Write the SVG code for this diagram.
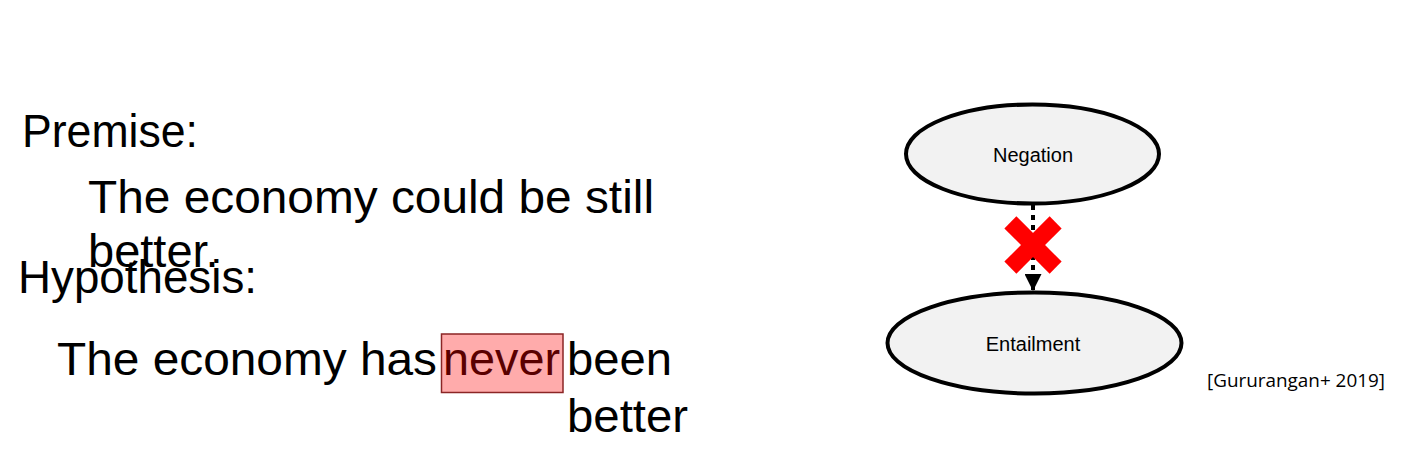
<svg xmlns="http://www.w3.org/2000/svg" width="1427" height="475" viewBox="0 0 1427 475">
  <style>
    .big { font-family: "Liberation Sans", Arial, sans-serif; font-size: 47px; fill: #000; }
    .lab { font-family: "Liberation Sans", Arial, sans-serif; font-size: 46px; fill: #000; }
    .node { fill: #f2f2f2; stroke: #000; stroke-width: 4; }
    .ntext { font-family: "Liberation Sans", Arial, sans-serif; font-size: 20px; fill: #000; text-anchor: middle; }
    .cite { font-family: "Open Sans", "Liberation Sans", sans-serif; font-size: 19px; fill: #000; }
    .edge { stroke: #000; stroke-width: 4; stroke-dasharray: 5 5; fill: none; }
  </style>
  <defs>
    <marker id="arrow" viewBox="0 0 10 10" refX="10" refY="5" markerWidth="17" markerHeight="17" markerUnits="userSpaceOnUse" orient="auto">
      <path d="M0,0 L10,5 L0,10 z" fill="#000"/>
    </marker>
  </defs>
  <rect width="1427" height="475" fill="#fff"/>

  <g id="premise">
    <text class="lab" x="22" y="147" textLength="176" lengthAdjust="spacingAndGlyphs">Premise:</text>
    <text class="big" x="88" y="213" textLength="566" lengthAdjust="spacingAndGlyphs">The economy could be still</text>
    <text class="big" x="88" y="267">better.</text>
  </g>

  <g id="hypothesis">
    <text class="lab" x="18" y="293" textLength="239" lengthAdjust="spacingAndGlyphs">Hypothesis:</text>
    <text class="big" x="57" y="375" textLength="380" lengthAdjust="spacingAndGlyphs">The economy has</text>
    <rect x="441.5" y="334" width="121.5" height="58.5" fill="#ffabab" stroke="#8b2525" stroke-width="1.5"/>
    <text class="big" x="443" y="375" textLength="117" lengthAdjust="spacingAndGlyphs" style="fill:#5a0000">never</text>
    <text class="big" x="567" y="375" textLength="105" lengthAdjust="spacingAndGlyphs">been</text>
    <text class="big" x="567" y="432" textLength="121" lengthAdjust="spacingAndGlyphs">better</text>
  </g>

  <g id="connectors">
    <line class="edge" x1="1033" y1="205" x2="1033" y2="291" marker-end="url(#arrow)"/>
  </g>

  <g id="cross">
    <rect x="1001" y="236.5" width="64" height="17" fill="#ff0000" transform="rotate(45 1033 245)"/>
    <rect x="1001" y="236.5" width="64" height="17" fill="#ff0000" transform="rotate(-45 1033 245)"/>
  </g>

  <g id="node-negation">
    <ellipse class="node" cx="1032.5" cy="154" rx="126.5" ry="49.5"/>
    <text class="ntext" x="1033" y="162">Negation</text>
  </g>

  <g id="node-entailment">
    <ellipse class="node" cx="1034.5" cy="343" rx="147" ry="50.5"/>
    <text class="ntext" x="1033" y="351">Entailment</text>
  </g>

  <g id="citation">
    <text class="cite" x="1207" y="387" textLength="178" lengthAdjust="spacingAndGlyphs">[Gururangan+ 2019]</text>
  </g>
</svg>
